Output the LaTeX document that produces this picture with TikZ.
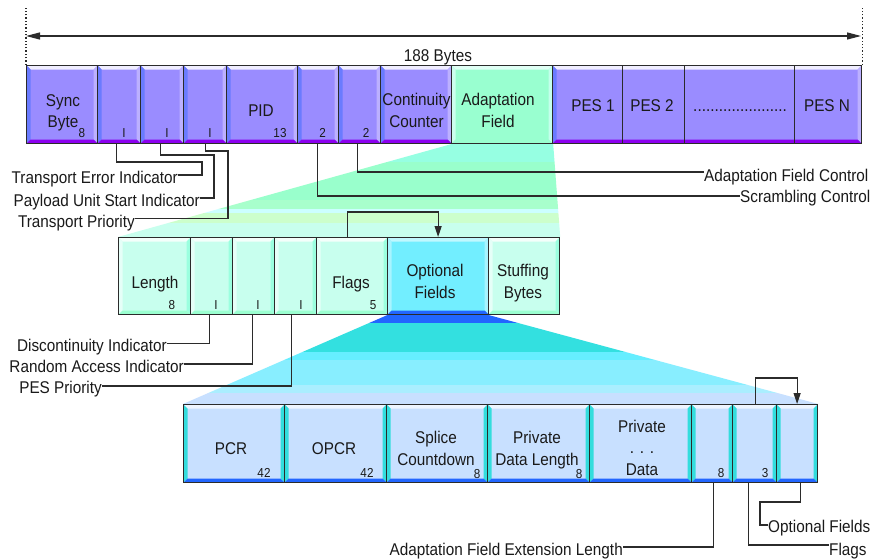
\documentclass[tikz,border=0pt]{standalone}
\usepackage{fontspec}
\setmainfont{Liberation Sans}[FakeStretch=0.9]
\usetikzlibrary{arrows.meta}

\pgfdeclarelayer{backdrop}
\pgfsetlayers{backdrop,main}

% line and text colours
\definecolor{edgec}{HTML}{2B2B2B}
\definecolor{txt}{HTML}{1A1A1A}
% transport packet cells (purple)
\definecolor{pMain}{HTML}{9A8CFF}
\definecolor{pTop}{HTML}{F0EEFF}
\definecolor{pLeft}{HTML}{6A7BFF}
\definecolor{pRight}{HTML}{BCB0FF}
\definecolor{pBot}{HTML}{8B00EE}
% adaptation field cell
\definecolor{aMain}{HTML}{99FFD0}
\definecolor{aTop}{HTML}{E0FFF5}
\definecolor{aLeft}{HTML}{CCFFEE}
\definecolor{aRight}{HTML}{C4FFEC}
% adaptation field row (mint)
\definecolor{gMain}{HTML}{C8FFEE}
\definecolor{gTop}{HTML}{F4FFFB}
\definecolor{gLeft}{HTML}{E6FFF8}
\definecolor{gRight}{HTML}{9BFFDF}
\definecolor{gBot}{HTML}{9BFFD0}
% optional fields cell
\definecolor{oMain}{HTML}{72EEFF}
\definecolor{oTop}{HTML}{C0F8FF}
\definecolor{oSide}{HTML}{A8F4FF}
\definecolor{blueBot}{HTML}{2266FF}
% optional fields row (light blue)
\definecolor{bMain}{HTML}{C8E0FF}
\definecolor{bTop}{HTML}{EEF5FF}
\definecolor{bSide}{HTML}{33DDDD}
% expansion bands
\definecolor{fa1}{HTML}{96FFE2}
\definecolor{fa2}{HTML}{99FFCC}
\definecolor{fa3}{HTML}{A8FFCC}
\definecolor{fa4}{HTML}{CCFFFF}
\definecolor{fa5}{HTML}{CCFFCC}
\definecolor{fa6}{HTML}{C8FFEE}
\definecolor{fb2}{HTML}{33E0E0}
\definecolor{fb3}{HTML}{66EEFF}
\definecolor{fb4}{HTML}{88EEFF}
\definecolor{fb5}{HTML}{AAEEFF}
\definecolor{fb6}{HTML}{C8E0FF}

\newcommand\bevw{4pt}
\newcommand\lblfont{\fontsize{17}{21.5}\selectfont}
\newcommand\bitfont{\fontsize{13}{15}\selectfont}

% a rectangular cell with bevelled edges
\newcommand\mkcell[6]{%
  \pgfmathsetmacro\cellw{#4-#3}%
  \pgfmathsetmacro\cellh{#6-#5}%
  \node[cellbox,#1,minimum width=\cellw pt,minimum height=\cellh pt] (#2) at (#3,#5) {};}

\tikzset{
  bev/.style n args={5}{fill=#1, path picture={
    \fill[#2] (path picture bounding box.north west) -- (path picture bounding box.north east)
      -- ([shift={(-\bevw,-\bevw)}]path picture bounding box.north east)
      -- ([shift={(\bevw,-\bevw)}]path picture bounding box.north west) -- cycle;
    \fill[#3] (path picture bounding box.north west) -- ([shift={(\bevw,-\bevw)}]path picture bounding box.north west)
      -- ([shift={(\bevw,\bevw)}]path picture bounding box.south west) -- (path picture bounding box.south west) -- cycle;
    \fill[#4] (path picture bounding box.north east) -- ([shift={(-\bevw,-\bevw)}]path picture bounding box.north east)
      -- ([shift={(-\bevw,\bevw)}]path picture bounding box.south east) -- (path picture bounding box.south east) -- cycle;
    \fill[#5] (path picture bounding box.south west) -- (path picture bounding box.south east)
      -- ([shift={(-\bevw,\bevw)}]path picture bounding box.south east)
      -- ([shift={(\bevw,\bevw)}]path picture bounding box.south west) -- cycle;
  }},
  cellbox/.style={draw=edgec, line width=1.2pt, inner sep=0pt, anchor=north west},
  pcell/.style={bev={pMain}{pTop}{pLeft}{pRight}{pBot}},
  acell/.style={bev={aMain}{aTop}{aLeft}{aRight}{aMain}},
  gcell/.style={bev={gMain}{gTop}{gLeft}{gRight}{gBot}},
  ocell/.style={bev={oMain}{oTop}{oSide}{oSide}{blueBot}},
  bcell/.style={bev={bMain}{bTop}{bSide}{bSide}{blueBot}},
  divcell/.style={},
  lbl/.style={font=\lblfont, text=txt, align=center, inner sep=0pt},
  bit/.style={font=\bitfont, text=txt, inner sep=0pt, anchor=base},
  lead/.style={draw=edgec, line width=1.2pt},
  arr/.style={lead, -{Triangle[length=11pt,width=7pt]}},
  dimline/.style={lead, {Triangle[length=14pt,width=7pt]}-{Triangle[length=14pt,width=7pt]}},
  guide/.style={draw=edgec, line width=1.3pt, dotted},
}

\begin{document}
\begin{tikzpicture}[x=1pt,y=-1pt]
\useasboundingbox (0,0) rectangle (870,559);

% ---- transport packet ----
\mkcell{pcell}{sync}{26}{97}{65}{143}
\mkcell{pcell}{tei}{97}{140}{65}{143}
\mkcell{pcell}{pusi}{140}{183}{65}{143}
\mkcell{pcell}{tpri}{183}{226}{65}{143}
\mkcell{pcell}{pid}{226}{297}{65}{143}
\mkcell{pcell}{scr}{297}{338}{65}{143}
\mkcell{pcell}{afc}{338}{380}{65}{143}
\mkcell{pcell}{cc}{380}{451}{65}{143}
\mkcell{acell}{adapt}{451}{552}{65}{143}
\mkcell{pcell}{pesgrp}{552}{861}{65}{143}
\mkcell{divcell}{pes1}{552}{622}{65}{143}
\mkcell{divcell}{pes2}{622}{684}{65}{143}
\mkcell{divcell}{pesd}{684}{794}{65}{143}
\mkcell{divcell}{pesn}{794}{861}{65}{143}

\node[lbl,anchor=base] (t-sync) at (63,128) {Sync\\Byte};
\node[bit] (b-sync) at (82,137.3) {8};
\node[bit] (b-tei) at (124,137.3) {I};
\node[bit] (b-pusi) at (167,137.3) {I};
\node[bit] (b-tpri) at (210,137.3) {I};
\node[lbl,anchor=base] (t-pid) at (261,117) {PID};
\node[bit] (b-pid) at (280,137.3) {13};
\node[bit] (b-scr) at (322.5,138) {2};
\node[bit] (b-afc) at (366,138) {2};
\node[lbl,anchor=base] (t-cc) at (416.5,127.3) {Continuity\\Counter};
\node[lbl,anchor=base] (t-adapt) at (498,127.3) {Adaptation\\Field};
\node[lbl,anchor=base] (t-pes1) at (593,111.5) {PES 1};
\node[lbl,anchor=base] (t-pes2) at (652,111.5) {PES 2};
\node[lbl,anchor=base] (t-pesd) at (740,111.5) {......................};
\node[lbl,anchor=base] (t-pesn) at (827,111.5) {PES N};

% packet length
\draw[guide] (sync.north west) -- ++(0,-57) coordinate (dimL0);
\draw[guide] (pesgrp.north east) -- ++(0,-57) coordinate (dimR0);
\coordinate (dimL) at (26,36);
\coordinate (dimR) at (861,36);
\draw[dimline] (dimL) -- (dimR);
\node[lbl,anchor=base] (t-188) at (438,61.5) {188 Bytes};

% ---- adaptation field ----
\mkcell{gcell}{len}{118}{190}{237}{314}
\mkcell{gcell}{di}{190}{232}{237}{314}
\mkcell{gcell}{rai}{232}{274}{237}{314}
\mkcell{gcell}{pp}{274}{316}{237}{314}
\mkcell{gcell}{flags}{316}{387}{237}{314}
\mkcell{ocell}{optf}{387}{488}{237}{314}
\mkcell{gcell}{stuff}{488}{559}{237}{314}

\node[lbl,anchor=base] (t-len) at (155,288.5) {Length};
\node[bit] (b-len) at (172,309) {8};
\node[bit] (b-di) at (216,309) {I};
\node[bit] (b-rai) at (258,309) {I};
\node[bit] (b-pp) at (301,309) {I};
\node[lbl,anchor=base] (t-flags) at (351,288.5) {Flags};
\node[bit] (b-flags) at (373,309) {5};
\node[lbl,anchor=base] (t-optf) at (435,298.3) {Optional\\Fields};
\node[lbl,anchor=base] (t-stuff) at (523,298.3) {Stuffing\\Bytes};

% ---- optional fields ----
\mkcell{bcell}{pcr}{183}{284}{404}{482}
\mkcell{bcell}{opcr}{284}{386}{404}{482}
\mkcell{bcell}{spl}{386}{487}{404}{482}
\mkcell{bcell}{pdl}{487}{589}{404}{482}
\mkcell{bcell}{pd}{589}{691}{404}{482}
\mkcell{bcell}{afel}{691}{732}{404}{482}
\mkcell{bcell}{oflags}{732}{776}{404}{482}
\mkcell{bcell}{oopt}{776}{817}{404}{482}

\node[lbl,anchor=base] (t-pcr) at (231,454) {PCR};
\node[bit] (b-pcr) at (264,477) {42};
\node[lbl,anchor=base] (t-opcr) at (334,454) {OPCR};
\node[bit] (b-opcr) at (367,477) {42};
\node[lbl,anchor=base] (t-spl) at (436,465) {Splice\\Countdown};
\node[bit] (b-spl) at (477,478.5) {8};
\node[lbl,anchor=base] (t-pdl) at (537,465) {Private\\Data Length};
\node[bit] (b-pdl) at (579,478.5) {8};
\node[lbl,anchor=base] (t-pd) at (642,475) {Private\\. . .\\Data};
\node[bit] (b-afel) at (721,477) {8};
\node[bit] (b-oflags) at (765,477) {3};

% ---- white page and expansion bands, behind the cells ----
\begin{pgfonlayer}{backdrop}
  \fill[white] (0,0) rectangle (870,559);
  \begin{scope}
    \clip (adapt.south west) -- (adapt.south east) -- (stuff.north east) -- (len.north west) -- cycle;
    \fill[fa1] (0,143) rectangle (870,162);
    \fill[fa2] (0,162) rectangle (870,200);
    \fill[fa3] (0,200) rectangle (870,209);
    \fill[fa4] (0,209) rectangle (870,213);
    \fill[fa5] (0,213) rectangle (870,223);
    \fill[fa6] (0,223) rectangle (870,237.5);
  \end{scope}
  \begin{scope}
    \clip (optf.south west) -- (optf.south east) -- (oopt.north east) -- (pcr.north west) -- cycle;
    \fill[blueBot] (0,313) rectangle (870,323);
    \fill[fb2] (0,323) rectangle (870,352);
    \fill[fb3] (0,352) rectangle (870,360);
    \fill[fb4] (0,360) rectangle (870,385);
    \fill[fb5] (0,385) rectangle (870,393);
    \fill[fb6] (0,393) rectangle (870,404.5);
  \end{scope}
\end{pgfonlayer}

% ---- field names and leaders ----
\node[lbl,anchor=base east] (l-tei) at (178,183) {Transport Error Indicator};
\node[lbl,anchor=base east] (l-pusi) at (200,206) {Payload Unit Start Indicator};
\node[lbl,anchor=base east] (l-tpri) at (135,227) {Transport Priority};
\node[lbl,anchor=base west] (l-afc) at (704,181) {Adaptation Field Control};
\node[lbl,anchor=base west] (l-scr) at (740,202) {Scrambling Control};

\draw[lead] ([xshift=-2.5pt]tei.south) |- (202,162) |- ([yshift=8pt]l-tei.base east);
\draw[lead] ([xshift=-1.5pt]pusi.south) |- (214,155) |- ([yshift=8pt]l-pusi.base east);
\draw[lead] ([xshift=0.5pt]tpri.south) |- (228,151) |- ([yshift=8.5pt]l-tpri.base east);
\draw[lead] ([xshift=-2pt]afc.south) |- ([yshift=9pt]l-afc.base west);
\draw[lead] ([xshift=-0.5pt]scr.south) |- ([yshift=6pt]l-scr.base west);

\node[lbl,anchor=base east] (l-di) at (167,351) {Discontinuity Indicator};
\node[lbl,anchor=base east] (l-rai) at (184,372) {Random Access Indicator};
\node[lbl,anchor=base east] (l-pp) at (102,393) {PES Priority};

\draw[lead] ([xshift=-2pt]di.south) |- ([yshift=7.7pt]l-di.base east);
\draw[lead] ([xshift=-1pt]rai.south) |- ([yshift=8pt]l-rai.base east);
\draw[lead] ([xshift=-4pt]pp.south) |- ([yshift=7pt]l-pp.base east);
\draw[arr] ([xshift=-4.5pt]flags.north) -- ++(0,-25) -| (optf.north);

\node[lbl,anchor=base east] (l-afel) at (623,555) {Adaptation Field Extension Length};
\node[lbl,anchor=base west] (l-oopt) at (768,532) {Optional Fields};
\node[lbl,anchor=base west] (l-oflags) at (829,555) {Flags};

\draw[lead] ([xshift=1.5pt]afel.south) |- ([yshift=8pt]l-afel.base east);
\draw[lead] ([xshift=-6pt]oflags.south) |- ([yshift=10pt]l-oflags.base west);
\draw[lead] ([xshift=3.5pt]oopt.south) |- (760,502) |- ([yshift=7pt]l-oopt.base west);
\draw[arr] ([xshift=1pt]oflags.north) -- ++(0,-26) -| (oopt.north);
\end{tikzpicture}
\end{document}
